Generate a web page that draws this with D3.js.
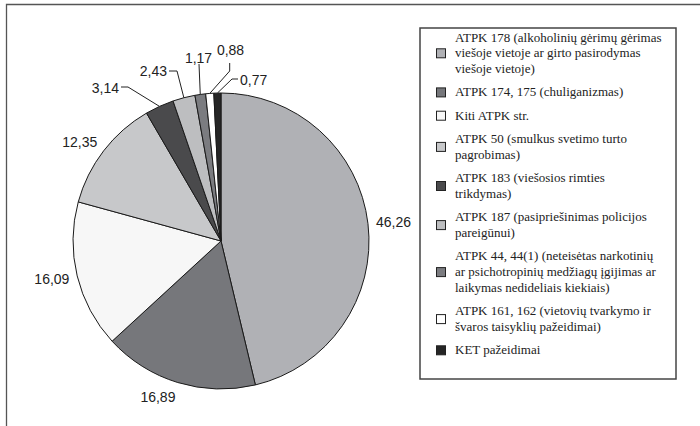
<!DOCTYPE html>
<html>
<head>
<meta charset="utf-8">
<script src="https://cdn.jsdelivr.net/npm/d3@7"></script>
<style>
  body { margin: 0; background: #fff; }
  svg { display: block; }
  .lg { font-family: "Liberation Serif", "DejaVu Serif", serif; font-size: 13px; fill: #222; }
  .vl { font-family: "Liberation Sans", Arial, Helvetica, sans-serif; font-size: 14px; fill: #222; }
</style>
</head>
<body>
<svg id="svg1" width="700" height="426"></svg>
<script>
// shares, clockwise from 12 o'clock
var values = [46.26, 16.89, 16.09, 12.35, 3.14, 2.43, 1.17, 0.88, 0.77];
var valueLabels = ["46,26", "16,89", "16,09", "12,35", "3,14", "2,43", "1,17", "0,88", "0,77"];
var fills = ["#b0b1b5", "#76777b", "#f7f7f7", "#c7c8ca", "#4a4a4c", "#bdbec0", "#7b7c80", "#ffffff", "#262626"];
var legendLines = [
  ["ATPK 178 (alkoholinių gėrimų gėrimas", "viešoje vietoje ar girto pasirodymas", "viešoje vietoje)"],
  ["ATPK 174, 175 (chuliganizmas)"],
  ["Kiti ATPK str."],
  ["ATPK 50 (smulkus svetimo turto", "pagrobimas)"],
  ["ATPK 183 (viešosios rimties", "trikdymas)"],
  ["ATPK 187 (pasipriešinimas policijos", "pareigūnui)"],
  ["ATPK 44, 44(1) (neteisėtas narkotinių", "ar psichotropinių medžiagų įgijimas ar", "laikymas nedideliais kiekiais)"],
  ["ATPK 161, 162 (vietovių tvarkymo ir", "švaros taisyklių pažeidimai)"],
  ["KET pažeidimai"]
];

var svg = d3.select("#svg1");
var cx = 221, cy = 241, radius = 148;

// outer frame (only top and left edges visible)
svg.append("path")
  .attr("d", "M6.5,426 L6.5,4.5 L700,4.5")
  .attr("fill", "none")
  .attr("stroke", "#555")
  .attr("stroke-width", 1.3);

var pie = d3.pie().sort(null).value(function(d) { return d; });
var arcs = pie(values);
var arc = d3.arc().innerRadius(0).outerRadius(radius);

var g = svg.append("g").attr("transform", "translate(" + cx + "," + cy + ")");

g.selectAll(".slice")
  .data(arcs)
  .enter().append("path")
  .attr("class", "slice")
  .attr("d", arc)
  .attr("fill", function(d, i) { return fills[i]; })
  .attr("stroke", "#1a1a1a")
  .attr("stroke-width", 1);

function midAngle(d) { return (d.startAngle + d.endAngle) / 2; }
function polar(a, r) { return [Math.sin(a) * r, -Math.cos(a) * r]; }

// big slices: label just outside the rim, excel style
var labelGap = 156;
arcs.slice(0, 4).forEach(function(d, i) {
  var a = midAngle(d), p = polar(a, labelGap);
  var s = Math.sin(a), c = Math.cos(a);
  g.append("text")
    .attr("class", "vl")
    .attr("x", p[0])
    .attr("y", p[1] - c * 7 + 5)
    .attr("text-anchor", s < 0 ? "end" : "start")
    .text(valueLabels[i]);
});

// small slices: callouts with leader lines (offsets from pie centre)
var callouts = [
  { i: 4, tx: -102, ty: -148, anchor: "end",    path: [[-100, -154], [-93, -154]] },
  { i: 5, tx: -54,  ty: -165, anchor: "end",    path: [[-52, -170], [-44, -170]] },
  { i: 6, tx: -22.5, ty: -178, anchor: "middle", path: [[-22, -177]] },
  { i: 7, tx: 9.5,  ty: -186, anchor: "middle", path: [[8.7, -178], [8.7, -170]] },
  { i: 8, tx: 19,   ty: -156, anchor: "start",  path: [[17, -162], [11, -162]] }
];
var line = d3.line();
callouts.forEach(function(co) {
  var d = arcs[co.i];
  var pts = co.path.concat([polar(midAngle(d), radius)]);
  g.append("path")
    .attr("d", line(pts))
    .attr("fill", "none")
    .attr("stroke", "#222")
    .attr("stroke-width", 1);
  g.append("text")
    .attr("class", "vl")
    .attr("x", co.tx)
    .attr("y", co.ty)
    .attr("text-anchor", co.anchor)
    .text(valueLabels[co.i]);
});

// legend
var legend = svg.append("g");
legend.append("rect")
  .attr("x", 420).attr("y", 28)
  .attr("width", 256).attr("height", 351)
  .attr("fill", "#fff")
  .attr("stroke", "#444")
  .attr("stroke-width", 1.5);

var lineH = 15.8, entryGap = 23.3, y = 37;
legendLines.forEach(function(lines, i) {
  var first = y;
  lines.forEach(function(t, k) {
    legend.append("text")
      .attr("class", "lg")
      .attr("x", 455)
      .attr("y", first + k * lineH + 4.5)
      .text(t);
  });
  var last = first + (lines.length - 1) * lineH;
  var mid = (first + last) / 2;
  legend.append("rect")
    .attr("x", 436.5).attr("y", mid - 4)
    .attr("width", 9).attr("height", 9)
    .attr("fill", fills[i])
    .attr("stroke", "#222")
    .attr("stroke-width", 1);
  y = last + entryGap;
});
</script>
</body>
</html>
